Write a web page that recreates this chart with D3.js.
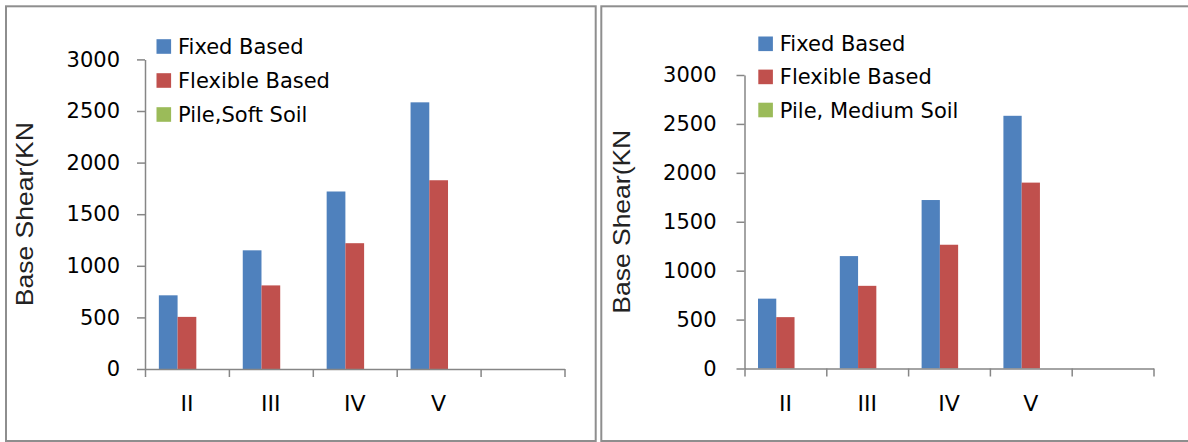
<!DOCTYPE html>
<html>
<head>
<meta charset="utf-8">
<script src="https://cdn.jsdelivr.net/npm/d3@7"></script>
<style>
  body { margin: 0; background: #fff; }
  svg { display: block; }
</style>
</head>
<body>
<div id="chart"></div>
<script>
// data
var categories = ["II", "III", "IV", "V", ""];
var seriesKeys = ["fixed", "flexible", "pile"];
var yTicks = [0, 500, 1000, 1500, 2000, 2500, 3000];

var softLegend = ["Fixed Based", "Flexible Based", "Pile,Soft Soil"];
var softFixed = [714, 1150, 1720, 2584];
var softFlexible = [505, 810, 1219, 1829];
var softPile = [0, 0, 0, 0];

var mediumLegend = ["Fixed Based", "Flexible Based", "Pile, Medium Soil"];
var mediumFixed = [714, 1149, 1722, 2583];
var mediumFlexible = [525, 845, 1265, 1900];
var mediumPile = [0, 0, 0, 0];

var colors = ["#4F81BD", "#C0504D", "#9BBB59"];
var axisColor = "#868686";
var frameColor = "#8e8e8e";

var svg = d3.select("#chart")
    .append("svg")
    .attr("width", 1188)
    .attr("height", 442);

svg.append("rect")
    .attr("width", 1188)
    .attr("height", 442)
    .attr("fill", "#fff");

//panel frames
svg.append("rect")
    .attr("x", 6).attr("y", 6.3)
    .attr("width", 589.7).attr("height", 434.7)
    .attr("fill", "none")
    .attr("stroke", frameColor)
    .attr("stroke-width", 2);

svg.append("rect")
    .attr("x", 601.3).attr("y", 6.3)
    .attr("width", 620).attr("height", 434.7)
    .attr("fill", "none")
    .attr("stroke", frameColor)
    .attr("stroke-width", 2);

function drawChart(opt, legend, fixed, flexible, pile)
{
    var rows = categories.map(function (c, i) {
        return {cat: c, fixed: fixed[i], flexible: flexible[i], pile: pile[i]};
    }).filter(function (d) { return d.cat !== ""; });

    var g = svg.append("g");

    //x scale (category bands)
    var x0 = d3.scaleBand()
        .domain(categories)
        .range([opt.left, opt.right])
        .padding(0);

    var x1 = d3.scaleBand()
        .domain(seriesKeys)
        .range([0, x0.bandwidth()])
        .paddingInner(0)
        .paddingOuter(0.74);

    //y scale
    var y = d3.scaleLinear()
        .domain([0, 3000])
        .range([opt.bottom, opt.top]);

    //bars
    var groups = g.selectAll(".cat")
        .data(rows)
        .enter()
        .append("g")
        .attr("transform", function (d) { return "translate(" + x0(d.cat) + ",0)"; });

    groups.selectAll("rect")
        .data(function (d) {
            return seriesKeys.map(function (k, i) { return {key: k, value: d[k], i: i}; });
        })
        .enter()
        .append("rect")
        .attr("x", function (d) { return x1(d.key); })
        .attr("width", x1.bandwidth())
        .attr("y", function (d) { return y(d.value); })
        .attr("height", function (d) { return y(0) - y(d.value); })
        .attr("fill", function (d) { return colors[d.i]; });

    //y axis
    var yAxis = d3.axisLeft(y)
        .tickValues(yTicks)
        .tickFormat(d3.format("d"))
        .tickSize(8)
        .tickSizeOuter(0)
        .tickPadding(opt.yPad);

    var ya = g.append("g")
        .attr("transform", "translate(" + opt.left + ",0)")
        .call(yAxis);
    ya.select(".domain").attr("stroke", axisColor).attr("stroke-width", 1.5);
    ya.selectAll(".tick line").attr("stroke", axisColor).attr("stroke-width", 1.5);
    ya.selectAll(".tick text")
        .attr("fill", "#000")
        .style("font-family", "DejaVu Sans")
        .style("font-size", "21px");

    //x axis line + boundary ticks
    var xb = d3.scaleLinear()
        .domain([0, categories.length])
        .range([opt.left, opt.right]);

    var xa = g.append("g")
        .attr("transform", "translate(0," + opt.bottom + ")")
        .call(d3.axisBottom(xb).ticks(categories.length).tickSize(8).tickSizeOuter(0).tickFormat(""));
    xa.select(".domain").attr("stroke", axisColor).attr("stroke-width", 1.5);
    xa.selectAll(".tick line").attr("stroke", axisColor).attr("stroke-width", 1.5);

    //category labels
    g.selectAll(".catlabel")
        .data(categories)
        .enter()
        .append("text")
        .attr("x", function (d) { return x0(d) + x0.bandwidth() / 2; })
        .attr("y", opt.bottom + 42)
        .attr("text-anchor", "middle")
        .style("font-family", "DejaVu Sans")
        .style("font-size", "22px")
        .text(function (d) { return d; });

    //y axis title
    g.append("text")
        .attr("transform", "rotate(-90)")
        .attr("x", -(opt.top + opt.bottom) / 2)
        .attr("y", opt.titleX)
        .attr("text-anchor", "middle")
        .attr("dy", "0.35em")
        .attr("textLength", 184)
        .attr("lengthAdjust", "spacingAndGlyphs")
        .style("font-family", "Liberation Sans")
        .style("font-size", "24px")
        .attr("fill", "#222")
        .text("Base Shear(KN");

    //legend
    var lg = g.selectAll(".legend")
        .data(legend)
        .enter()
        .append("g")
        .attr("transform", function (d, i) { return "translate(" + opt.legX + "," + (opt.legY + i * opt.legStep) + ")"; });

    lg.append("rect")
        .attr("x", 0)
        .attr("y", -7.3)
        .attr("width", 14.6)
        .attr("height", 14.6)
        .attr("fill", function (d, i) { return colors[i]; });

    lg.append("text")
        .attr("x", 21.5)
        .attr("y", 0)
        .attr("dy", "0.36em")
        .style("font-family", "DejaVu Sans")
        .style("font-size", "21px")
        .text(function (d) { return d; });
}

drawChart({left: 145, right: 564.5, top: 59.4, bottom: 369, yPad: 17, titleX: 25,
           legX: 156.5, legY: 46.5, legStep: 34},
          softLegend, softFixed, softFlexible, softPile);

drawChart({left: 744.5, right: 1153.5, top: 75, bottom: 368.5, yPad: 20, titleX: 622,
           legX: 758.3, legY: 43.8, legStep: 33.1},
          mediumLegend, mediumFixed, mediumFlexible, mediumPile);
</script>
</body>
</html>
